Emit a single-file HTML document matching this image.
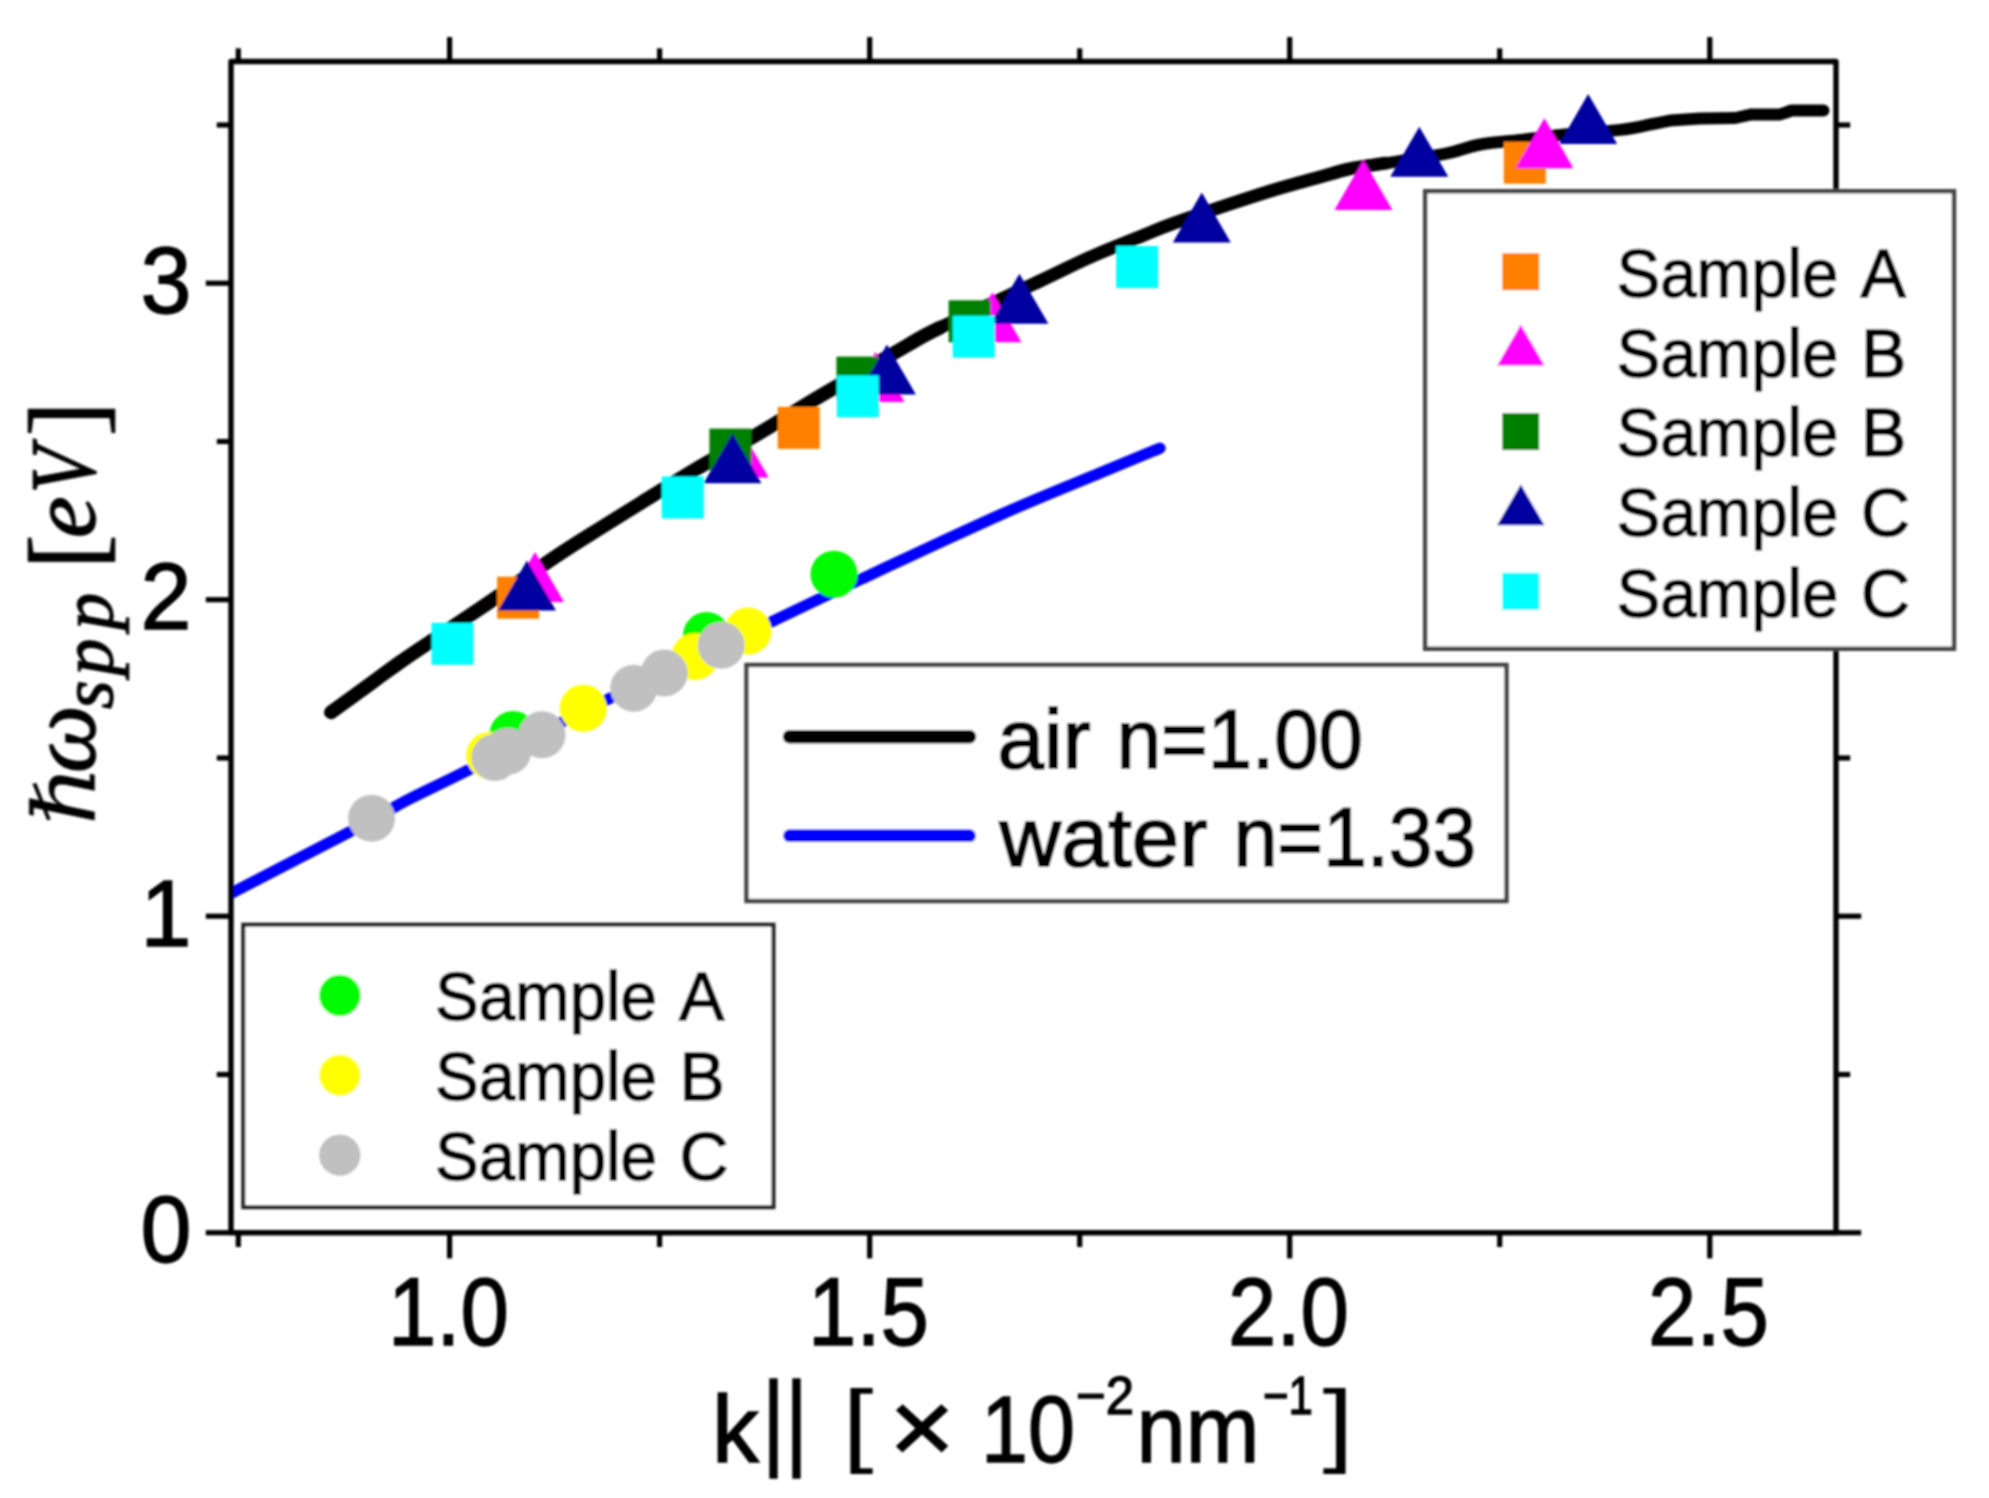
<!DOCTYPE html>
<html lang="en"><head><meta charset="utf-8"><title>SPP dispersion</title>
<style>
html,body{margin:0;padding:0;background:#fff;}
body{width:1989px;height:1498px;overflow:hidden;}
svg{display:block;}
.sans{font-family:"Liberation Sans","IPAGothic",sans-serif;fill:#000;stroke:#000;stroke-width:1.4px;}
.serif{font-family:"Liberation Serif","DejaVu Serif",serif;fill:#000;stroke:#000;stroke-width:1.3px;}
</style></head><body>
<svg width="1989" height="1498" viewBox="0 0 1989 1498">
<rect width="1989" height="1498" fill="#fff"/>
<g id="chart" filter="url(#soft)">
<defs><filter id="soft" x="0" y="0" width="1989" height="1498" filterUnits="userSpaceOnUse"><feGaussianBlur stdDeviation="0.9"/></filter></defs>

<clipPath id="plot"><rect x="231.0" y="61.5" width="1605.0" height="1171.2"/></clipPath>
<g clip-path="url(#plot)">
<path d="M226.0 895.9 C245.9 885.6 321.4 846.5 345.7 833.9 C370.0 821.3 361.6 826.0 371.6 820.5 C381.7 815.0 389.8 809.2 406.0 800.8 C422.2 792.3 439.4 784.7 468.9 769.8 C498.4 754.9 550.3 727.8 583.0 711.5 C615.7 695.2 633.8 686.8 665.0 672.0 C696.2 657.2 737.5 637.9 770.0 622.5 C802.5 607.1 821.8 597.5 860.3 579.5 C898.8 561.5 960.9 532.4 1001.1 514.5 C1041.3 496.6 1075.2 483.4 1101.7 472.3 C1128.2 461.2 1150.3 452.2 1160.0 448.2" fill="none" stroke="#0000ff" stroke-width="11.3" stroke-linecap="round"/>
<path d="M331.0 712.3 C335.9 708.8 348.6 699.6 360.2 691.2 C371.8 682.8 389.5 669.7 400.4 662.0 C411.3 654.3 412.1 653.9 425.5 644.9 C438.9 635.9 458.3 623.2 480.8 608.0 C503.3 592.8 540.3 566.9 560.3 553.6 C580.3 540.3 587.2 536.4 600.6 528.0 C614.0 519.6 624.2 513.2 640.8 503.0 C657.4 492.8 680.1 478.6 700.0 466.8 C719.9 455.1 740.3 444.3 760.4 432.5 C780.5 420.7 796.6 410.1 820.7 395.8 C844.8 381.5 885.2 358.0 905.2 346.6 C925.2 335.2 917.9 338.4 940.4 327.5 C962.9 316.6 1015.0 292.7 1040.0 281.0 C1065.0 269.3 1073.5 264.5 1090.3 257.1 C1107.1 249.7 1127.2 241.9 1140.6 236.5 C1154.0 231.1 1155.6 229.9 1170.7 224.4 C1185.8 218.9 1212.8 209.8 1231.1 203.7 C1249.4 197.6 1263.7 192.9 1280.3 188.0 C1296.9 183.1 1318.9 177.2 1330.6 174.0 C1342.3 170.8 1341.5 170.4 1350.7 168.6 C1359.9 166.8 1374.4 165.0 1385.9 163.2 C1397.5 161.4 1409.3 159.8 1420.0 158.0 C1430.7 156.2 1440.2 154.8 1450.2 152.6 C1460.2 150.3 1468.6 146.6 1480.3 144.5 C1492.0 142.4 1507.2 141.6 1520.6 140.0 C1534.0 138.4 1544.2 136.7 1560.8 135.0 C1577.4 133.3 1605.1 131.7 1620.0 129.9 C1634.9 128.2 1645.0 125.4 1650.0 124.5 L1660.0 122.6 L1670.0 120.6 L1700.0 118.6 L1735.0 118.0 L1742.0 116.5 L1750.5 114.6 L1780.0 114.4 L1786.0 112.5 L1791.5 110.5 L1823.5 110.6" fill="none" stroke="#000" stroke-width="12" stroke-linecap="round" stroke-linejoin="round"/>
<path d="M331.0 712.3 C335.9 708.8 348.6 699.6 360.2 691.2 C371.8 682.8 389.5 669.7 400.4 662.0 C411.3 654.3 412.1 653.9 425.5 644.9 C438.9 635.9 458.3 623.2 480.8 608.0 C503.3 592.8 540.3 566.9 560.3 553.6 C580.3 540.3 587.2 536.4 600.6 528.0 C614.0 519.6 624.2 513.2 640.8 503.0 C657.4 492.8 680.1 478.6 700.0 466.8 C719.9 455.1 740.3 444.3 760.4 432.5 C780.5 420.7 796.6 410.1 820.7 395.8 C844.8 381.5 885.2 358.0 905.2 346.6 C925.2 335.2 917.9 338.4 940.4 327.5 C962.9 316.6 1015.0 292.7 1040.0 281.0 C1065.0 269.3 1073.5 264.5 1090.3 257.1 C1107.1 249.7 1127.2 241.9 1140.6 236.5 C1154.0 231.1 1155.6 229.9 1170.7 224.4 C1185.8 218.9 1212.8 209.8 1231.1 203.7 C1249.4 197.6 1263.7 192.9 1280.3 188.0 C1296.9 183.1 1318.9 177.2 1330.6 174.0 C1342.3 170.8 1341.5 170.4 1350.7 168.6 C1359.9 166.8 1374.4 165.0 1385.9 163.2" fill="none" stroke="#000" stroke-width="13" stroke-linecap="round" stroke-linejoin="round"/>
<path d="M331.0 712.3 C335.9 708.8 348.6 699.6 360.2 691.2 C371.8 682.8 389.5 669.7 400.4 662.0 C411.3 654.3 412.1 653.9 425.5 644.9 C438.9 635.9 458.3 623.2 480.8 608.0 C503.3 592.8 540.3 566.9 560.3 553.6 C580.3 540.3 587.2 536.4 600.6 528.0 C614.0 519.6 624.2 513.2 640.8 503.0 C657.4 492.8 680.1 478.6 700.0 466.8 C719.9 455.1 740.3 444.3 760.4 432.5 C780.5 420.7 796.6 410.1 820.7 395.8 C844.8 381.5 885.2 358.0 905.2 346.6 C925.2 335.2 917.9 338.4 940.4 327.5" fill="none" stroke="#000" stroke-width="13.8" stroke-linecap="round" stroke-linejoin="round"/>
</g>
<rect x="497.1" y="576.7" width="42" height="42" fill="#ff8000"/>
<rect x="777.7" y="406.9" width="42" height="42" fill="#ff8000"/>
<rect x="1503.8" y="141.7" width="42" height="42" fill="#ff8000"/>
<polygon points="535.0,552.0 564.0,602.0 506.0,602.0" fill="#ff00ff"/>
<polygon points="739.7,427.4 768.7,477.4 710.7,477.4" fill="#ff00ff"/>
<polygon points="875.6,352.0 904.6,402.0 846.6,402.0" fill="#ff00ff"/>
<polygon points="992.5,292.3 1021.5,342.3 963.5,342.3" fill="#ff00ff"/>
<polygon points="1363.4,160.0 1392.4,210.0 1334.4,210.0" fill="#ff00ff"/>
<polygon points="1544.4,118.3 1573.4,168.3 1515.4,168.3" fill="#ff00ff"/>
<rect x="709.4" y="428.6" width="42" height="42" fill="#008000"/>
<rect x="836.4" y="356.6" width="42" height="42" fill="#008000"/>
<rect x="948.6" y="300.3" width="42" height="42" fill="#008000"/>
<polygon points="527.0,560.6 556.0,610.6 498.0,610.6" fill="#0000a0"/>
<polygon points="732.5,433.3 761.5,483.3 703.5,483.3" fill="#0000a0"/>
<polygon points="886.9,344.5 915.9,394.5 857.9,394.5" fill="#0000a0"/>
<polygon points="1019.4,273.8 1048.4,323.8 990.4,323.8" fill="#0000a0"/>
<polygon points="1201.8,192.5 1230.8,242.5 1172.8,242.5" fill="#0000a0"/>
<polygon points="1419.3,126.8 1448.3,176.8 1390.3,176.8" fill="#0000a0"/>
<polygon points="1588.2,94.0 1617.2,144.0 1559.2,144.0" fill="#0000a0"/>
<rect x="431.5" y="622.8" width="42" height="42" fill="#00ffff"/>
<rect x="661.7" y="476.5" width="42" height="42" fill="#00ffff"/>
<rect x="836.8" y="375.3" width="42" height="42" fill="#00ffff"/>
<rect x="952.7" y="315.6" width="42" height="42" fill="#00ffff"/>
<rect x="1116.1" y="246.0" width="42" height="42" fill="#00ffff"/>
<circle cx="513.0" cy="734.5" r="23.5" fill="#00fa00"/>
<circle cx="706.5" cy="635.5" r="23.5" fill="#00fa00"/>
<circle cx="834.0" cy="574.2" r="23.5" fill="#00fa00"/>
<circle cx="489.7" cy="755.5" r="23.5" fill="#ffff00"/>
<circle cx="583.3" cy="708.3" r="23.5" fill="#ffff00"/>
<circle cx="695.0" cy="656.5" r="23.5" fill="#ffff00"/>
<circle cx="748.0" cy="631.0" r="23.5" fill="#ffff00"/>
<circle cx="371.6" cy="818.3" r="23.5" fill="#c0c0c0"/>
<circle cx="494.8" cy="757.5" r="23.5" fill="#c0c0c0"/>
<circle cx="507.8" cy="751.3" r="23.5" fill="#c0c0c0"/>
<circle cx="542.0" cy="734.8" r="23.5" fill="#c0c0c0"/>
<circle cx="633.8" cy="688.2" r="23.5" fill="#c0c0c0"/>
<circle cx="664.3" cy="673.0" r="23.5" fill="#c0c0c0"/>
<circle cx="721.2" cy="645.3" r="23.5" fill="#c0c0c0"/>
<g stroke="#000" stroke-width="5.4" fill="none" stroke-linecap="butt">
<rect x="231.0" y="61.5" width="1605.0" height="1171.2" stroke-linejoin="round"/>
</g>
<g stroke="#000" stroke-width="5.2" stroke-linecap="butt">
<line x1="238.3" y1="61.5" x2="238.3" y2="48.3"/>
<line x1="238.3" y1="1232.7" x2="238.3" y2="1247.0"/>
<line x1="449.6" y1="61.5" x2="449.6" y2="37.0"/>
<line x1="449.6" y1="1232.7" x2="449.6" y2="1258.4"/>
<line x1="659.6" y1="61.5" x2="659.6" y2="48.3"/>
<line x1="659.6" y1="1232.7" x2="659.6" y2="1247.0"/>
<line x1="869.7" y1="61.5" x2="869.7" y2="37.0"/>
<line x1="869.7" y1="1232.7" x2="869.7" y2="1258.4"/>
<line x1="1079.7" y1="61.5" x2="1079.7" y2="48.3"/>
<line x1="1079.7" y1="1232.7" x2="1079.7" y2="1247.0"/>
<line x1="1289.7" y1="61.5" x2="1289.7" y2="37.0"/>
<line x1="1289.7" y1="1232.7" x2="1289.7" y2="1258.4"/>
<line x1="1499.7" y1="61.5" x2="1499.7" y2="48.3"/>
<line x1="1499.7" y1="1232.7" x2="1499.7" y2="1247.0"/>
<line x1="1709.8" y1="61.5" x2="1709.8" y2="37.0"/>
<line x1="1709.8" y1="1232.7" x2="1709.8" y2="1258.4"/>
<line x1="231.0" y1="1232.7" x2="205.8" y2="1232.7"/>
<line x1="1836.0" y1="1232.7" x2="1861.2" y2="1232.7"/>
<line x1="231.0" y1="1074.5" x2="216.8" y2="1074.5"/>
<line x1="1836.0" y1="1074.5" x2="1850.2" y2="1074.5"/>
<line x1="231.0" y1="916.2" x2="205.8" y2="916.2"/>
<line x1="1836.0" y1="916.2" x2="1861.2" y2="916.2"/>
<line x1="231.0" y1="758.0" x2="216.8" y2="758.0"/>
<line x1="1836.0" y1="758.0" x2="1850.2" y2="758.0"/>
<line x1="231.0" y1="599.7" x2="205.8" y2="599.7"/>
<line x1="1836.0" y1="599.7" x2="1861.2" y2="599.7"/>
<line x1="231.0" y1="441.5" x2="216.8" y2="441.5"/>
<line x1="1836.0" y1="441.5" x2="1850.2" y2="441.5"/>
<line x1="231.0" y1="283.2" x2="205.8" y2="283.2"/>
<line x1="1836.0" y1="283.2" x2="1861.2" y2="283.2"/>
<line x1="231.0" y1="125.0" x2="216.8" y2="125.0"/>
<line x1="1836.0" y1="125.0" x2="1850.2" y2="125.0"/>
</g>
<text class="sans" x="448.4" y="1345" font-size="96" text-anchor="middle" textLength="121" lengthAdjust="spacingAndGlyphs">1.0</text>
<text class="sans" x="868.5" y="1345" font-size="96" text-anchor="middle" textLength="121" lengthAdjust="spacingAndGlyphs">1.5</text>
<text class="sans" x="1288.5" y="1345" font-size="96" text-anchor="middle" textLength="121" lengthAdjust="spacingAndGlyphs">2.0</text>
<text class="sans" x="1708.5" y="1345" font-size="96" text-anchor="middle" textLength="121" lengthAdjust="spacingAndGlyphs">2.5</text>
<text class="sans" x="166" y="1262.0" font-size="95" text-anchor="middle" textLength="51" lengthAdjust="spacingAndGlyphs">0</text>
<text class="sans" x="166" y="945.5" font-size="95" text-anchor="middle" textLength="51" lengthAdjust="spacingAndGlyphs">1</text>
<text class="sans" x="166" y="629.0" font-size="95" text-anchor="middle" textLength="51" lengthAdjust="spacingAndGlyphs">2</text>
<text class="sans" x="166" y="312.5" font-size="95" text-anchor="middle" textLength="51" lengthAdjust="spacingAndGlyphs">3</text>
<text class="sans"><tspan x="712" y="1462" font-size="94" textLength="47" lengthAdjust="spacingAndGlyphs">k</tspan><tspan x="762" y="1456" font-size="106" textLength="46" lengthAdjust="spacingAndGlyphs">||</tspan> <tspan x="842.5" y="1455" font-size="92" textLength="31" lengthAdjust="spacingAndGlyphs" style="stroke-width:0">[</tspan><tspan x="889" y="1463" font-size="104" textLength="66" lengthAdjust="spacingAndGlyphs">×</tspan><tspan x="981" y="1462" font-size="94" textLength="94" lengthAdjust="spacingAndGlyphs">10</tspan><tspan x="1076" y="1414" font-size="54" textLength="58" lengthAdjust="spacingAndGlyphs">−2</tspan><tspan x="1136.5" y="1462" font-size="94" textLength="123" lengthAdjust="spacingAndGlyphs">nm</tspan><tspan x="1263" y="1414" font-size="54" textLength="50" lengthAdjust="spacingAndGlyphs">−1</tspan><tspan x="1322.5" y="1455" font-size="92" textLength="31" lengthAdjust="spacingAndGlyphs" style="stroke-width:0">]</tspan></text>
<g transform="translate(94.5,821.1) rotate(-90)"><text class="serif"><tspan x="-3.6" y="0" font-size="86" font-style="italic" textLength="59" lengthAdjust="spacingAndGlyphs" style="font-family:'DejaVu Serif','Liberation Serif',serif;stroke-width:0.4px">ℏ</tspan><tspan x="48" y="0" font-size="96" font-style="italic">ω</tspan><tspan x="111.9 145.4 191.3" y="18" font-size="74" font-style="italic">spp</tspan> <tspan x="252.3" y="5.6" font-size="103" font-style="normal">[</tspan><tspan x="283.1" y="0" font-size="94" font-style="italic">e</tspan><tspan x="327.7" y="0" font-size="94" font-style="italic" textLength="47" lengthAdjust="spacingAndGlyphs">V</tspan><tspan x="384.9" y="5.6" font-size="103" font-style="normal">]</tspan></text></g>
<rect x="1425.2" y="191.2" width="528.8" height="457.59999999999997" fill="#fff" stroke="#424242" stroke-width="4.4"/>
<text class="sans" y="297.3" font-size="68"><tspan x="1616.5" textLength="222" lengthAdjust="spacingAndGlyphs">Sample</tspan> <tspan x="1860.5">A</tspan></text>
<text class="sans" y="376.5" font-size="68"><tspan x="1616.5" textLength="222" lengthAdjust="spacingAndGlyphs">Sample</tspan> <tspan x="1861">B</tspan></text>
<text class="sans" y="456" font-size="68"><tspan x="1616.5" textLength="222" lengthAdjust="spacingAndGlyphs">Sample</tspan> <tspan x="1861">B</tspan></text>
<text class="sans" y="535.7" font-size="68"><tspan x="1616.5" textLength="222" lengthAdjust="spacingAndGlyphs">Sample</tspan> <tspan x="1861">C</tspan></text>
<text class="sans" y="616.5" font-size="68"><tspan x="1616.5" textLength="222" lengthAdjust="spacingAndGlyphs">Sample</tspan> <tspan x="1861">C</tspan></text>
<rect x="1502.2" y="253.2" width="37" height="37" fill="#ff8000"/>
<polygon points="1520.8,324.6 1544.5,365.4 1497.1,365.4" fill="#ff00ff"/>
<rect x="1502.2" y="413.1" width="37" height="37" fill="#008000"/>
<polygon points="1520.8,484.5 1544.5,525.3 1497.1,525.3" fill="#0000a0"/>
<rect x="1502.2" y="572.7" width="37" height="37" fill="#00ffff"/>
<rect x="746.5" y="665" width="760.0" height="236" fill="#fff" stroke="#424242" stroke-width="4.4"/>
<line x1="789.5" y1="736.8" x2="969.5" y2="736.8" stroke="#000" stroke-width="13.5" stroke-linecap="round"/>
<line x1="789.5" y1="835.7" x2="969.5" y2="835.7" stroke="#0000ff" stroke-width="12.8" stroke-linecap="round"/>
<text class="sans" y="768" font-size="84" style="stroke-width:1.9px"><tspan x="997.5" textLength="93" lengthAdjust="spacingAndGlyphs">air</tspan> <tspan x="1116.8" textLength="246" lengthAdjust="spacingAndGlyphs">n=1.00</tspan></text>
<text class="sans" y="866" font-size="84" style="stroke-width:1.9px"><tspan x="999.5" textLength="208" lengthAdjust="spacingAndGlyphs">water</tspan> <tspan x="1233.7" textLength="242.4" lengthAdjust="spacingAndGlyphs">n=1.33</tspan></text>
<rect x="243.3" y="924.7" width="530.2" height="282.5" fill="#fff" stroke="#222" stroke-width="4"/>
<text class="sans" y="1020.1" font-size="68"><tspan x="435" textLength="222" lengthAdjust="spacingAndGlyphs">Sample</tspan> <tspan x="679">A</tspan></text>
<circle cx="339.8" cy="995.4" r="20.7" fill="#00fa00"/>
<text class="sans" y="1099.8" font-size="68"><tspan x="435" textLength="222" lengthAdjust="spacingAndGlyphs">Sample</tspan> <tspan x="679.5">B</tspan></text>
<circle cx="339.8" cy="1075.1" r="20.7" fill="#ffff00"/>
<text class="sans" y="1179.9" font-size="68"><tspan x="435" textLength="222" lengthAdjust="spacingAndGlyphs">Sample</tspan> <tspan x="679.5">C</tspan></text>
<circle cx="339.8" cy="1155.2" r="20.7" fill="#c0c0c0"/>
</g></svg></body></html>
